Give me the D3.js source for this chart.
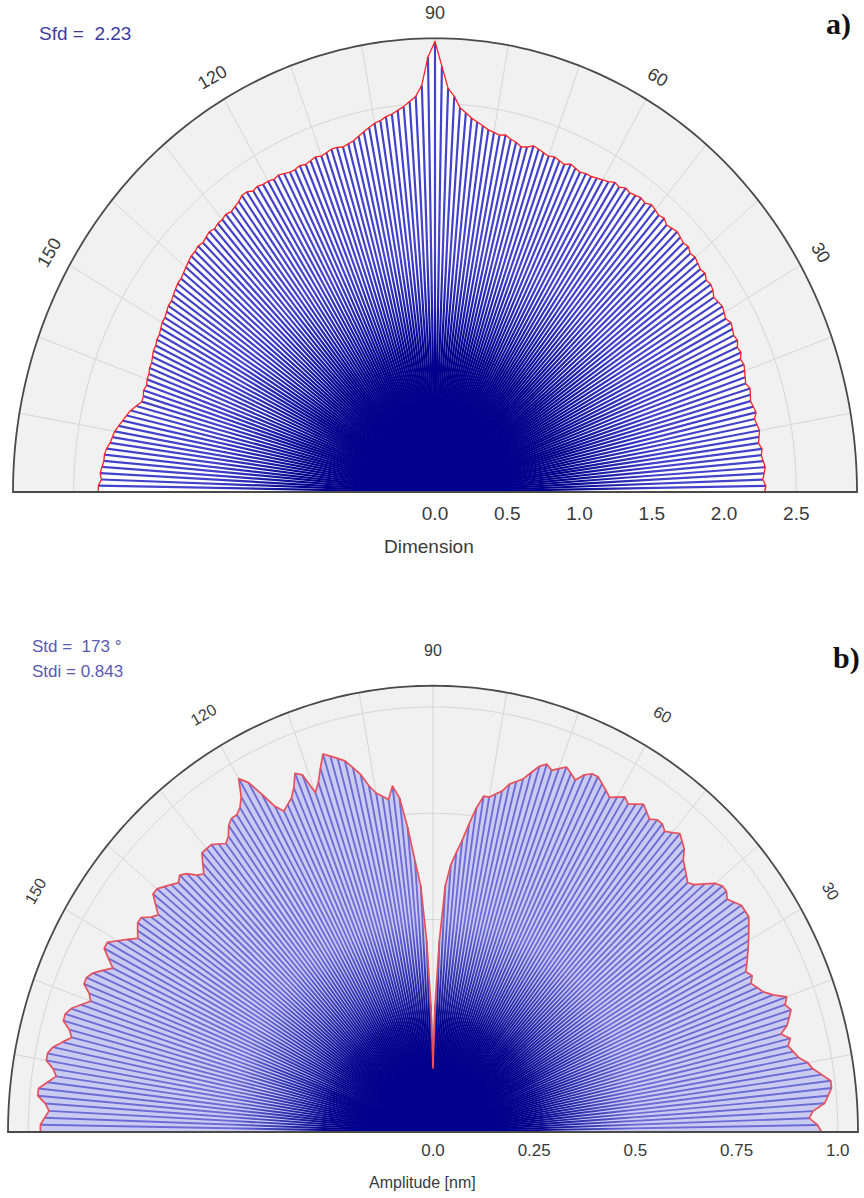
<!DOCTYPE html>
<html>
<head>
<meta charset="utf-8">
<script src="https://cdn.jsdelivr.net/npm/d3@7/dist/d3.min.js"></script>
<style>
  body { margin: 0; background: #ffffff; }
  svg { display: block; }
</style>
</head>
<body>
<svg id="chart" width="864" height="1198"></svg>
<script>
// Samples are taken every angleStep degrees, from 0° to 180°.
const angleStep = 1;

// Fractal dimension by direction (panel a)
const dimensionValues = [
  2.28,2.29,2.27,2.28,2.29,2.28,2.27,2.28,2.26,2.27,
  2.28,2.27,2.26,2.28,2.27,2.26,2.27,2.28,2.26,2.27,
  2.28,2.29,2.28,2.30,2.29,2.31,2.30,2.31,2.32,2.30,
  2.31,2.32,2.31,2.30,2.32,2.33,2.32,2.34,2.33,2.34,
  2.35,2.34,2.36,2.35,2.36,2.37,2.36,2.35,2.37,2.36,
  2.37,2.38,2.36,2.37,2.36,2.35,2.36,2.34,2.35,2.33,
  2.32,2.31,2.30,2.30,2.29,2.30,2.31,2.29,2.30,2.31,
  2.30,2.31,2.32,2.33,2.31,2.30,2.32,2.33,2.35,2.34,
  2.35,2.36,2.38,2.40,2.42,2.45,2.48,2.55,2.60,2.74,
  2.90,
  2.80,2.62,2.55,2.52,2.49,2.47,2.45,2.44,2.42,2.41,
  2.39,2.37,2.35,2.33,2.32,2.31,2.32,2.32,2.31,2.30,
  2.31,2.30,2.29,2.30,2.29,2.29,2.30,2.31,2.30,2.31,
  2.31,2.32,2.31,2.33,2.33,2.31,2.30,2.29,2.30,2.29,
  2.29,2.28,2.29,2.28,2.27,2.28,2.27,2.27,2.26,2.25,
  2.24,2.23,2.23,2.22,2.21,2.20,2.20,2.19,2.18,2.18,
  2.17,2.16,2.16,2.15,2.15,2.14,2.13,2.13,2.12,2.12,
  2.11,2.12,2.11,2.11,2.14,2.17,2.19,2.21,2.23,2.25,
  2.26,2.27,2.29,2.30,2.30,2.31,2.32,2.31,2.33,2.33
];

// Texture direction amplitude by direction, nm (panel b)
const amplitudeValues = [
  0.96,0.95,0.93,0.94,0.97,0.98,0.99,0.99,0.97,0.95,
  0.94,0.92,0.91,0.90,0.91,0.89,0.91,0.92,0.93,0.92,
  0.93,0.90,0.88,0.87,0.86,0.87,0.86,0.87,0.88,0.89,
  0.90,0.91,0.92,0.93,0.93,0.93,0.92,0.91,0.92,0.92,
  0.91,0.89,0.87,0.86,0.87,0.88,0.89,0.91,0.92,0.93,
  0.92,0.91,0.92,0.92,0.91,0.92,0.93,0.92,0.91,0.92,
  0.91,0.90,0.91,0.92,0.93,0.93,0.92,0.90,0.91,0.92,
  0.91,0.90,0.91,0.90,0.88,0.86,0.85,0.84,0.82,0.81,
  0.80,0.80,0.77,0.73,0.69,0.66,0.63,0.58,0.45,0.30,
  0.15,
  0.30,0.45,0.58,0.64,0.72,0.79,0.82,0.79,0.80,0.81,
  0.83,0.86,0.88,0.90,0.91,0.92,0.93,0.90,0.87,0.85,
  0.90,0.91,0.88,0.86,0.85,0.84,0.86,0.90,0.94,0.96,
  0.92,0.90,0.89,0.89,0.88,0.86,0.85,0.86,0.87,0.87,
  0.87,0.85,0.83,0.84,0.86,0.87,0.86,0.87,0.88,0.89,
  0.89,0.87,0.85,0.86,0.88,0.88,0.87,0.86,0.88,0.90,
  0.92,0.92,0.90,0.88,0.90,0.92,0.93,0.93,0.91,0.90,
  0.92,0.94,0.95,0.95,0.93,0.92,0.94,0.96,0.97,0.97,
  0.95,0.94,0.96,0.98,0.98,0.96,0.95,0.96,0.97,0.97
];

const dimensionTicks = [0, 0.5, 1.0, 1.5, 2.0, 2.5];
const dimensionTickLabels = ["0.0", "0.5", "1.0", "1.5", "2.0", "2.5"];
const amplitudeTicks = [0, 0.25, 0.5, 0.75, 1.0];
const amplitudeTickLabels = ["0.0", "0.25", "0.5", "0.75", "1.0"];
const angleLabels = [30, 60, 90, 120, 150];
const gridAngles = d3.range(0, 181, 10);

const svg = d3.select("#chart");
const defs = svg.append("defs");
const rad = d => d * Math.PI / 180;
const SANS = "Liberation Sans, Arial, sans-serif";
const NAVY = "#00008c";

function drawPolar(cfg) {
  const g = svg.append("g");
  const r = d3.scaleLinear().domain([0, cfg.maxValue]).range([0, cfg.radius]);
  const px = (v, a) => cfg.cx + r(v) * Math.cos(rad(a));
  const py = (v, a) => cfg.cy - r(v) * cfg.stretch * Math.sin(rad(a));

  // Half-ellipse frame
  const halfPath = v => d3.line()(d3.range(0, 181, 1).map(a => [px(v, a), py(v, a)]));
  g.append("path")
    .attr("d", halfPath(cfg.maxValue) + "Z")
    .attr("fill", "#f1f1f1");

  // Grid: rings at the ticks, spokes every 10°
  g.selectAll(".ring").data(cfg.ticks.filter(t => t > 0)).join("path")
    .attr("d", t => halfPath(t))
    .attr("fill", "none").attr("stroke", "#d6d6d6").attr("stroke-width", 1);
  g.selectAll(".spoke").data(gridAngles).join("line")
    .attr("x1", cfg.cx).attr("y1", cfg.cy)
    .attr("x2", a => px(cfg.maxValue, a)).attr("y2", a => py(cfg.maxValue, a))
    .attr("stroke", "#d6d6d6").attr("stroke-width", 1);

  const data = cfg.values.map((v, i) => ({ a: i * angleStep, v, id: `${cfg.id}-${i}` }));

  // Area under the envelope
  const areaPts = [[cfg.cx, cfg.cy]].concat(data.map(d => [px(d.v, d.a), py(d.v, d.a)]));
  g.append("path")
    .attr("d", d3.line()(areaPts) + "Z")
    .attr("fill", cfg.areaFill);

  // Each ray fades from deep navy at the centre to the lighter blue further out
  const grads = defs.selectAll(`.g-${cfg.id}`).data(data).join("linearGradient")
    .attr("id", d => d.id)
    .attr("gradientUnits", "userSpaceOnUse")
    .attr("x1", cfg.cx).attr("y1", cfg.cy)
    .attr("x2", d => px(d.v, d.a)).attr("y2", d => py(d.v, d.a));
  grads.append("stop").attr("offset", d => Math.min(1, cfg.coreValue / d.v)).attr("stop-color", NAVY);
  grads.append("stop").attr("offset", d => Math.min(1, cfg.fadeValue / d.v)).attr("stop-color", cfg.rayColor);

  g.selectAll(".ray").data(data).join("line")
    .attr("x1", cfg.cx).attr("y1", cfg.cy)
    .attr("x2", d => px(d.v, d.a)).attr("y2", d => py(d.v, d.a))
    .attr("stroke", d => `url(#${d.id})`)
    .attr("stroke-width", cfg.rayWidth);

  // Envelope
  g.append("path")
    .attr("d", d3.line()(data.map(d => [px(d.v, d.a), py(d.v, d.a)])))
    .attr("fill", "none").attr("stroke", cfg.envelope)
    .attr("stroke-width", cfg.envelopeWidth).attr("stroke-linejoin", "round");

  // Outer frame
  g.append("path")
    .attr("d", halfPath(cfg.maxValue) + "Z")
    .attr("fill", "none").attr("stroke", "#4a4a4a").attr("stroke-width", 1.8);

  // Radial axis labels along the baseline
  g.selectAll(".tick").data(cfg.ticks).join("text")
    .attr("x", t => px(t, 0)).attr("y", cfg.cy + cfg.tickOffset)
    .attr("text-anchor", "middle")
    .attr("font-family", SANS)
    .attr("font-size", cfg.tickSize).attr("fill", "#3a3a3a")
    .text((t, i) => cfg.tickLabels[i]);

  // Angle labels outside the rim
  g.selectAll(".ang").data(angleLabels).join("text")
    .attr("transform", a => {
      const x = px(cfg.maxValue * cfg.labelRadius, a);
      const y = py(cfg.maxValue * cfg.labelRadius, a);
      return `translate(${x},${y}) rotate(${90 - a})`;
    })
    .attr("text-anchor", "middle").attr("dy", "0.35em")
    .attr("font-family", SANS)
    .attr("font-size", cfg.angleSize).attr("fill", "#3a3a3a")
    .text(a => a);

  // Axis title
  g.append("text")
    .attr("x", cfg.titleX).attr("y", cfg.titleY)
    .attr("font-family", SANS)
    .attr("font-size", cfg.titleSize).attr("fill", "#3a3a3a")
    .text(cfg.title);
}

drawPolar({
  id: "dim", cx: 435, cy: 492, radius: 422, stretch: 1.075, maxValue: 2.92,
  values: dimensionValues, ticks: dimensionTicks, tickLabels: dimensionTickLabels,
  areaFill: "#ffffff", rayColor: "#4242cc", rayWidth: 2.2, coreValue: 0.9, fadeValue: 1.55,
  envelope: "#ff2020", envelopeWidth: 1.3,
  tickOffset: 28, tickSize: 19, angleSize: 18, labelRadius: 1.056,
  title: "Dimension", titleX: 384, titleY: 553, titleSize: 19
});

drawPolar({
  id: "amp", cx: 433, cy: 1132, radius: 425, stretch: 1.05, maxValue: 1.05,
  values: amplitudeValues, ticks: amplitudeTicks, tickLabels: amplitudeTickLabels,
  areaFill: "#cbcbf2", rayColor: "#6c6cd6", rayWidth: 1.9, coreValue: 0.26, fadeValue: 0.5,
  envelope: "#e8505a", envelopeWidth: 1.7,
  tickOffset: 24, tickSize: 17, angleSize: 16, labelRadius: 1.08,
  title: "Amplitude [nm]", titleX: 369, titleY: 1188, titleSize: 16
});

// Panel annotations
svg.append("text").attr("x", 39).attr("y", 40)
  .attr("font-family", SANS).attr("font-size", 19)
  .attr("fill", "#3b3b9e").attr("xml:space", "preserve").text("Sfd =  2.23");
svg.append("text").attr("x", 826).attr("y", 34)
  .attr("font-family", "Liberation Serif, Times New Roman, serif").attr("font-weight", "bold")
  .attr("font-size", 30).attr("fill", "#111").text("a)");
svg.append("text").attr("x", 32).attr("y", 652)
  .attr("font-family", SANS).attr("font-size", 17)
  .attr("fill", "#5a5ab4").attr("xml:space", "preserve").text("Std =  173 °");
svg.append("text").attr("x", 32).attr("y", 677)
  .attr("font-family", SANS).attr("font-size", 17)
  .attr("fill", "#5a5ab4").text("Stdi = 0.843");
svg.append("text").attr("x", 833).attr("y", 668)
  .attr("font-family", "Liberation Serif, Times New Roman, serif").attr("font-weight", "bold")
  .attr("font-size", 30).attr("fill", "#111").text("b)");
</script>
</body>
</html>
